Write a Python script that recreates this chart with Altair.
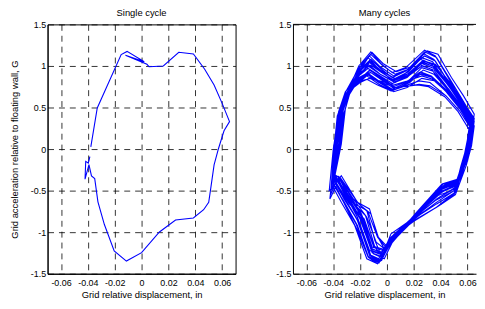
import altair as alt
import pandas as pd

FONT = "Liberation Sans"
BLUE = "#0000ff"

x_ticks = [-0.06, -0.04, -0.02, 0, 0.02, 0.04, 0.06]
y_ticks = [-1.5, -1, -0.5, 0, 0.5, 1, 1.5]

# ---- Single cycle ----
single_x = [-0.0378, -0.033, -0.0152, -0.0108, 0.002, -0.012, 0.004, 0.0056, 0.0162, 0.0277,
            0.0386, 0.047, 0.054, 0.060, 0.0655, 0.0614, 0.0573, 0.054, 0.0518, 0.050,
            0.0462, 0.0386, 0.0253, 0.0133, 0.0, -0.0113, -0.0204, -0.0277, -0.0325, -0.0349,
            -0.0373, -0.0392, -0.0421, -0.0416, -0.0397, -0.0385]
single_y = [0.027, 0.494, 1.137, 1.175, 1.05, 1.13, 1.02, 0.99, 1.0, 1.164,
            1.145, 0.96, 0.77, 0.55, 0.33, 0.22, 0.007, -0.19, -0.44, -0.64,
            -0.73, -0.83, -0.853, -0.998, -1.246, -1.348, -1.227, -0.908, -0.635, -0.355,
            -0.323, -0.187, -0.363, -0.148, -0.168, -0.09]

# ---- Many cycles (one list per cycle) ----
mc_x = [
    [-0.039, -0.036, -0.034, -0.029, -0.021, -0.012, -0.004, 0.004, 0.014, 0.028, 0.036, 0.046, 0.054, 0.063, 0.061, 0.058, 0.054, 0.042, 0.022, 0.006, -0.002, -0.008, -0.015, -0.026, -0.036],
    [-0.040, -0.038, -0.0355, -0.031, -0.021, -0.013, -0.005, 0.005, 0.015, 0.027, 0.035, 0.045, 0.055, 0.064, 0.062, 0.058, 0.053, 0.040, 0.021, 0.004, -0.004, -0.011, -0.020, -0.030, -0.037],
    [-0.0395, -0.035, -0.033, -0.028, -0.020, -0.014, -0.006, 0.006, 0.016, 0.026, 0.034, 0.044, 0.054, 0.062, 0.060, 0.057, 0.052, 0.039, 0.020, 0.003, -0.003, -0.009, -0.016, -0.027, -0.037],
    [-0.041, -0.039, -0.036, -0.030, -0.021, -0.013, -0.004, 0.004, 0.013, 0.025, 0.033, 0.045, 0.055, 0.063, 0.061, 0.057, 0.051, 0.038, 0.019, 0.002, -0.005, -0.013, -0.022, -0.032, -0.038],
    [-0.040, -0.037, -0.034, -0.028, -0.020, -0.014, -0.005, 0.006, 0.015, 0.027, 0.036, 0.046, 0.056, 0.064, 0.062, 0.059, 0.052, 0.037, 0.018, 0.001, -0.006, -0.014, -0.023, -0.033, -0.039],
    [-0.042, -0.0395, -0.037, -0.031, -0.022, -0.015, -0.006, 0.003, 0.014, 0.024, 0.033, 0.044, 0.054, 0.062, 0.060, 0.056, 0.050, 0.036, 0.019, 0.002, -0.004, -0.010, -0.017, -0.028, -0.038],
    [-0.039, -0.036, -0.0325, -0.027, -0.019, -0.013, -0.004, 0.005, 0.016, 0.026, 0.034, 0.046, 0.056, 0.065, 0.063, 0.059, 0.051, 0.039, 0.020, 0.004, -0.003, -0.011, -0.019, -0.030, -0.036],
    [-0.0395, -0.038, -0.035, -0.030, -0.021, -0.012, -0.003, 0.006, 0.017, 0.027, 0.035, 0.046, 0.055, 0.063, 0.061, 0.057, 0.052, 0.041, 0.021, 0.004, -0.002, -0.010, -0.020, -0.030, -0.036],
    [-0.040, -0.0345, -0.032, -0.028, -0.022, -0.014, -0.005, 0.004, 0.014, 0.025, 0.034, 0.045, 0.055, 0.064, 0.062, 0.058, 0.053, 0.040, 0.020, 0.003, -0.005, -0.013, -0.022, -0.031, -0.037],
    [-0.041, -0.039, -0.0365, -0.031, -0.021, -0.015, -0.006, 0.005, 0.015, 0.026, 0.036, 0.047, 0.056, 0.064, 0.062, 0.058, 0.052, 0.039, 0.019, 0.002, -0.004, -0.012, -0.021, -0.032, -0.038],
    [-0.039, -0.0355, -0.033, -0.028, -0.020, -0.012, -0.004, 0.006, 0.017, 0.024, 0.032, 0.044, 0.054, 0.062, 0.060, 0.056, 0.050, 0.036, 0.018, 0.003, -0.001, -0.007, -0.014, -0.025, -0.036],
    [-0.0405, -0.0385, -0.036, -0.030, -0.021, -0.013, -0.005, 0.005, 0.015, 0.026, 0.034, 0.045, 0.055, 0.063, 0.061, 0.057, 0.053, 0.041, 0.021, 0.004, -0.003, -0.011, -0.020, -0.031, -0.037],
    [-0.040, -0.037, -0.0345, -0.029, -0.020, -0.012, -0.004, 0.004, 0.014, 0.028, 0.036, 0.046, 0.056, 0.065, 0.063, 0.059, 0.053, 0.040, 0.020, 0.002, -0.006, -0.014, -0.023, -0.033, -0.039],
    [-0.043, -0.040, -0.036, -0.030, -0.021, -0.014, -0.005, 0.006, 0.016, 0.026, 0.035, 0.045, 0.055, 0.063, 0.061, 0.057, 0.051, 0.038, 0.019, 0.003, -0.004, -0.012, -0.021, -0.031, -0.037],
    [-0.0395, -0.036, -0.0335, -0.028, -0.021, -0.013, -0.004, 0.005, 0.015, 0.025, 0.033, 0.045, 0.055, 0.064, 0.062, 0.058, 0.051, 0.037, 0.018, 0.002, -0.004, -0.009, -0.015, -0.026, -0.037],
    [-0.040, -0.039, -0.036, -0.031, -0.021, -0.014, -0.005, 0.004, 0.015, 0.026, 0.035, 0.046, 0.055, 0.063, 0.061, 0.057, 0.052, 0.039, 0.020, 0.003, -0.005, -0.013, -0.022, -0.032, -0.038],
    [-0.039, -0.035, -0.0325, -0.028, -0.020, -0.012, -0.003, 0.006, 0.016, 0.028, 0.037, 0.047, 0.056, 0.064, 0.062, 0.058, 0.054, 0.042, 0.022, 0.005, -0.002, -0.010, -0.019, -0.029, -0.036],
    [-0.041, -0.039, -0.036, -0.030, -0.021, -0.014, -0.006, 0.004, 0.013, 0.024, 0.032, 0.044, 0.054, 0.062, 0.060, 0.056, 0.050, 0.037, 0.019, 0.000, -0.007, -0.015, -0.024, -0.034, -0.040],
    [-0.0385, -0.034, -0.031, -0.027, -0.019, -0.011, -0.003, 0.007, 0.018, 0.030, 0.038, 0.048, 0.057, 0.065, 0.063, 0.060, 0.055, 0.044, 0.023, 0.007, 0.000, -0.007, -0.013, -0.022, -0.034],
    [-0.040, -0.0375, -0.0345, -0.029, -0.022, -0.015, -0.007, 0.003, 0.012, 0.023, 0.031, 0.043, 0.053, 0.061, 0.059, 0.055, 0.050, 0.036, 0.017, -0.001, -0.008, -0.014, -0.022, -0.032, -0.038],
    [-0.0425, -0.0385, -0.035, -0.029, -0.021, -0.013, -0.004, 0.006, 0.016, 0.027, 0.035, 0.046, 0.055, 0.064, 0.062, 0.058, 0.053, 0.040, 0.020, 0.004, -0.003, -0.011, -0.020, -0.030, -0.037],
    [-0.039, -0.034, -0.031, -0.027, -0.020, -0.013, -0.004, 0.005, 0.016, 0.027, 0.036, 0.047, 0.056, 0.065, 0.063, 0.059, 0.054, 0.043, 0.022, 0.006, -0.001, -0.006, -0.012, -0.021, -0.035],
    [-0.041, -0.0385, -0.0355, -0.031, -0.022, -0.014, -0.006, 0.004, 0.013, 0.024, 0.033, 0.044, 0.054, 0.062, 0.060, 0.056, 0.051, 0.038, 0.019, 0.001, -0.006, -0.014, -0.022, -0.032, -0.039],
    [-0.040, -0.037, -0.034, -0.029, -0.021, -0.012, -0.004, 0.005, 0.015, 0.027, 0.035, 0.046, 0.056, 0.064, 0.062, 0.058, 0.052, 0.040, 0.021, 0.004, -0.003, -0.011, -0.020, -0.030, -0.036],
]
mc_y = [
    [-0.28, 0.05, 0.46, 0.70, 1.00, 1.17, 1.02, 0.92, 0.98, 1.19, 1.12, 0.85, 0.62, 0.40, 0.18, -0.08, -0.36, -0.42, -0.78, -1.02, -1.20, -1.12, -0.82, -0.58, -0.33],
    [-0.32, 0.02, 0.44, 0.68, 0.97, 1.12, 0.99, 0.88, 0.95, 1.15, 1.08, 0.82, 0.60, 0.38, 0.14, -0.10, -0.38, -0.46, -0.80, -1.06, -1.25, -1.20, -0.78, -0.53, -0.36],
    [-0.30, 0.08, 0.48, 0.72, 0.95, 1.10, 0.96, 0.85, 0.93, 1.10, 1.05, 0.80, 0.58, 0.36, 0.12, -0.12, -0.40, -0.50, -0.82, -1.10, -1.30, -1.18, -0.80, -0.62, -0.38],
    [-0.36, 0.00, 0.42, 0.66, 0.92, 1.05, 0.93, 0.83, 0.90, 1.08, 1.02, 0.78, 0.55, 0.34, 0.10, -0.14, -0.42, -0.55, -0.84, -1.14, -1.35, -1.28, -0.85, -0.58, -0.40],
    [-0.40, 0.04, 0.45, 0.70, 0.90, 1.02, 0.90, 0.80, 0.88, 1.05, 0.98, 0.76, 0.54, 0.32, 0.08, -0.16, -0.45, -0.60, -0.86, -1.18, -1.37, -1.30, -0.90, -0.62, -0.44],
    [-0.55, 0.00, 0.40, 0.64, 0.86, 0.98, 0.88, 0.78, 0.86, 1.02, 0.96, 0.74, 0.52, 0.30, 0.06, -0.18, -0.50, -0.65, -0.86, -1.12, -1.28, -1.16, -0.84, -0.66, -0.40],
    [-0.26, 0.06, 0.47, 0.72, 0.86, 0.95, 0.85, 0.75, 0.82, 0.98, 0.94, 0.72, 0.50, 0.28, 0.04, -0.20, -0.55, -0.68, -0.87, -1.06, -1.22, -1.18, -0.80, -0.52, -0.34],
    [-0.30, 0.03, 0.44, 0.68, 0.84, 0.92, 0.82, 0.72, 0.80, 0.95, 0.90, 0.70, 0.50, 0.30, 0.06, -0.16, -0.38, -0.48, -0.80, -1.12, -1.32, -1.26, -0.84, -0.56, -0.37],
    [-0.34, 0.02, 0.43, 0.66, 0.82, 0.90, 0.80, 0.70, 0.78, 0.90, 0.86, 0.68, 0.48, 0.28, 0.04, -0.18, -0.42, -0.52, -0.82, -1.08, -1.26, -1.22, -0.82, -0.55, -0.38],
    [-0.38, 0.00, 0.42, 0.65, 0.80, 0.88, 0.78, 0.69, 0.74, 0.85, 0.82, 0.66, 0.46, 0.26, 0.02, -0.20, -0.46, -0.58, -0.84, -1.14, -1.34, -1.28, -0.88, -0.60, -0.42],
    [-0.28, 0.06, 0.46, 0.70, 0.80, 0.86, 0.80, 0.74, 0.76, 0.78, 0.76, 0.64, 0.46, 0.26, 0.04, -0.18, -0.50, -0.62, -0.85, -1.02, -1.18, -1.06, -0.76, -0.60, -0.33],
    [-0.36, 0.02, 0.44, 0.67, 0.80, 0.85, 0.82, 0.77, 0.82, 0.88, 0.84, 0.68, 0.48, 0.28, 0.05, -0.16, -0.36, -0.42, -0.78, -1.10, -1.30, -1.25, -0.84, -0.56, -0.38],
    [-0.40, 0.04, 0.46, 0.71, 0.96, 1.08, 0.96, 0.86, 0.94, 1.12, 1.06, 0.80, 0.56, 0.34, 0.10, -0.14, -0.40, -0.47, -0.80, -1.16, -1.36, -1.30, -0.90, -0.62, -0.44],
    [-0.50, 0.00, 0.42, 0.66, 0.90, 1.00, 0.90, 0.81, 0.88, 1.00, 0.95, 0.74, 0.52, 0.30, 0.06, -0.18, -0.48, -0.56, -0.84, -1.06, -1.24, -1.20, -0.80, -0.54, -0.37],
    [-0.32, 0.03, 0.44, 0.68, 0.86, 0.93, 0.84, 0.73, 0.80, 0.93, 0.88, 0.70, 0.50, 0.30, 0.06, -0.18, -0.52, -0.66, -0.86, -1.10, -1.29, -1.10, -0.74, -0.64, -0.39],
    [-0.37, 0.02, 0.45, 0.69, 0.88, 0.97, 0.88, 0.79, 0.86, 1.03, 0.97, 0.76, 0.54, 0.32, 0.08, -0.16, -0.44, -0.53, -0.82, -1.13, -1.33, -1.27, -0.86, -0.58, -0.40],
    [-0.30, 0.05, 0.47, 0.72, 0.98, 1.14, 1.00, 0.90, 0.96, 1.17, 1.10, 0.84, 0.60, 0.38, 0.14, -0.10, -0.36, -0.44, -0.78, -1.03, -1.21, -1.17, -0.78, -0.52, -0.35],
    [-0.42, 0.00, 0.42, 0.65, 0.82, 0.89, 0.80, 0.71, 0.76, 0.82, 0.80, 0.64, 0.46, 0.26, 0.02, -0.22, -0.55, -0.70, -0.87, -1.18, -1.38, -1.32, -0.92, -0.64, -0.46],
    [-0.30, 0.06, 0.48, 0.73, 1.02, 1.16, 1.03, 0.93, 0.99, 1.18, 1.14, 0.86, 0.64, 0.42, 0.20, -0.06, -0.37, -0.44, -0.77, -1.00, -1.17, -1.05, -0.72, -0.64, -0.32],
    [-0.45, 0.01, 0.41, 0.63, 0.81, 0.84, 0.77, 0.70, 0.75, 0.77, 0.75, 0.63, 0.45, 0.24, 0.01, -0.21, -0.53, -0.71, -0.89, -1.17, -1.37, -1.30, -0.98, -0.65, -0.45],
    [-0.60, 0.03, 0.45, 0.70, 0.93, 1.06, 0.94, 0.84, 0.91, 1.07, 1.01, 0.79, 0.57, 0.35, 0.11, -0.13, -0.41, -0.49, -0.81, -1.09, -1.27, -1.22, -0.83, -0.56, -0.39],
    [-0.29, 0.07, 0.48, 0.71, 0.94, 1.04, 0.93, 0.82, 0.89, 1.06, 1.02, 0.80, 0.59, 0.37, 0.15, -0.09, -0.37, -0.43, -0.79, -1.04, -1.23, -1.08, -0.78, -0.66, -0.34],
    [-0.48, 0.00, 0.43, 0.66, 0.84, 0.91, 0.82, 0.72, 0.79, 0.92, 0.87, 0.69, 0.49, 0.28, 0.04, -0.19, -0.49, -0.63, -0.85, -1.15, -1.35, -1.29, -0.92, -0.63, -0.45],
    [-0.33, 0.04, 0.45, 0.70, 0.91, 1.01, 0.92, 0.83, 0.90, 1.04, 0.99, 0.78, 0.56, 0.34, 0.10, -0.14, -0.43, -0.51, -0.81, -1.09, -1.28, -1.23, -0.82, -0.55, -0.38],
]

single_df = pd.DataFrame({"x": single_x, "y": single_y, "i": range(len(single_x))})
many_rows = []
k = 0
for cx, cy in zip(mc_x, mc_y):
    for a, b in zip(cx, cy):
        many_rows.append({"x": a, "y": b, "i": k})
        k += 1
many_df = pd.DataFrame(many_rows)

LABEL_EXPR = "(datum.value < 0 ? '-' : '') + format(abs(datum.value), '~g')"
W = 190
H = 252
RW = 185
X_MAX_RIGHT = -0.07 + RW * 0.14 / W


def panel(df, title, width, xmax, ytitle, show_box):
    x = alt.X("x:Q", scale=alt.Scale(domain=[-0.07, xmax], nice=False, zero=False),
              axis=alt.Axis(values=x_ticks, labelExpr=LABEL_EXPR,
                            title="Grid relative displacement, in"))
    y = alt.Y("y:Q", scale=alt.Scale(domain=[-1.5, 1.5], nice=False, zero=False),
              axis=alt.Axis(values=y_ticks, labelExpr=LABEL_EXPR, title=ytitle))
    line = alt.Chart(df).mark_line(color=BLUE, strokeWidth=1.1, clip=True).encode(
        x=x, y=y, order=alt.Order("i:Q"))
    layers = [line]
    if not show_box:
        top = alt.Chart(pd.DataFrame({"y": [1.5]})).mark_rule(
            color="black", strokeWidth=1).encode(y="y:Q")
        layers.append(top)
    ch = alt.layer(*layers).properties(
        width=width, height=H,
        title=alt.TitleParams(text=title, frame="group"))
    if not show_box:
        ch = ch.properties(view=alt.ViewBackground(stroke="transparent"))
    return ch


left = panel(single_df, "Single cycle", W, 0.07,
             "Grid acceleration relative to floating wall, G", True)
right = panel(many_df, "Many cycles", RW, X_MAX_RIGHT, None, False)

chart = alt.hconcat(left, right, spacing=58, bounds="flush").properties(
    padding={"left": 0, "top": -2, "right": 0, "bottom": 0}
).configure_view(
    stroke="black", strokeWidth=1
).configure_axis(
    labelFont=FONT, labelFontSize=9, labelColor="black",
    titleFont=FONT, titleFontSize=9.5, titleFontWeight="normal", titleColor="black",
    domainColor="black", domainWidth=1, ticks=False, labelPadding=2,
    grid=True, gridColor="black", gridDash=[6, 5], gridWidth=0.8, gridOpacity=1,
).configure_axisX(labelPadding=5, titlePadding=2).configure_axisY(titlePadding=11).configure_title(
    font=FONT, fontSize=9.5, fontWeight="normal", color="black", offset=3
)

chart.save("out.html", embed_options={"renderer": "svg", "actions": False})
